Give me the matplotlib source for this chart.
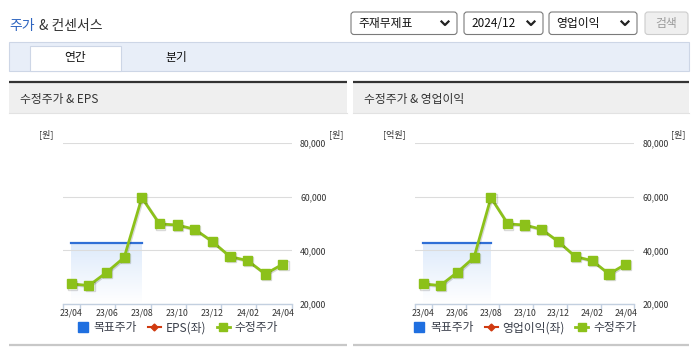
import numpy as np
import matplotlib
matplotlib.use("Agg")
import matplotlib.pyplot as plt
from matplotlib.lines import Line2D
from matplotlib.patches import Rectangle, FancyBboxPatch
import matplotlib.patheffects as pe

plt.rcParams['font.family'] = ['Noto Sans CJK KR', 'DejaVu Sans']

# data
months = ['23/04', '23/05', '23/06', '23/07', '23/08', '23/09', '23/10',
          '23/11', '23/12', '24/01', '24/02', '24/03', '24/04']
price = [27500, 26900, 31800, 37400, 59700, 49900, 49500,
         47900, 43300, 37700, 36200, 31200, 34900]
target = [42900, 42900, 42900, 42900, 42900, np.nan, np.nan,
          np.nan, np.nan, np.nan, np.nan, np.nan, np.nan]
yticks = [20000, 40000, 60000, 80000]

W, H = 695, 349
GREEN = '#8cc11a'
BLUE = '#2f6fd6'
RED = '#d03a10'
TXT = '#333333'

fig = plt.figure(figsize=(W / 100, H / 100), dpi=100)
bg = fig.add_axes([0, 0, 1, 1])
bg.set_xlim(0, W)
bg.set_ylim(H, 0)
bg.axis('off')

# page header
bg.text(9, 26, '주가', color='#2d64c0', fontsize=10, va='center')
bg.text(39, 26, '& 컨센서스', color=TXT, fontsize=10, va='center')

# dropdowns
for x0, x1, label in [(351, 457, '주재무제표'), (464, 543, '2024/12'), (549, 637, '영업이익')]:
    bg.add_patch(FancyBboxPatch((x0, 12), x1 - x0, 22.5, boxstyle='round,pad=0,rounding_size=3',
                                fc='white', ec='#7a7a7a', lw=0.8))
    bg.text(x0 + 7, 23.5, label, fontsize=8.5, color='#111111', va='center')
    cx = x1 - 12
    bg.plot([cx - 3.5, cx, cx + 3.5], [21.5, 25, 21.5], color='#222222', lw=1.6)
bg.add_patch(FancyBboxPatch((645, 12), 43, 22.5, boxstyle='round,pad=0,rounding_size=3',
                            fc='#efefef', ec='#cccccc', lw=0.8))
bg.text(666.5, 23.5, '검색', fontsize=8.5, color='#9a9a9a', va='center', ha='center')

# tab bar
bg.add_patch(Rectangle((9, 41.5), 680, 29, fc='#e8eef8', ec='#cdd6e6', lw=0.8))
bg.add_patch(Rectangle((29.5, 46), 91, 25, fc='white', ec='#cdd6e6', lw=0.8))
bg.text(75, 58, '연간', fontsize=8.5, color='#111111', ha='center', va='center')
bg.text(176, 58, '분기', fontsize=8.5, color='#111111', ha='center', va='center')

# panels
panels = [(9, 346.5, '수정주가 & EPS', 'EPS(좌)', '[원]', 46, 336, 62.5, 291.7),
          (352.5, 688.5, '수정주가 & 영업이익', '영업이익(좌)', '[억원]', 394, 678, 415, 634.3)]

for x0, x1, title, second, lunit, lux, rux, ax0, ax1 in panels:
    bg.add_patch(Rectangle((x0, 83), x1 - x0, 30, fc='#efefef', ec='none'))
    bg.plot([x0, x1], [82, 82], color='#333333', lw=1.6, solid_capstyle='butt')
    bg.plot([x0, x1], [113, 113], color='#e2e2e2', lw=0.8)
    bg.plot([x0, x1], [344.5, 344.5], color='#c8c8c8', lw=1.6, solid_capstyle='butt')
    bg.text(x0 + 11, 99, title, fontsize=8.5, color=TXT, va='center')
    bg.text(lux, 134, lunit, fontsize=6.5, color=TXT, ha='center', va='center')
    bg.text(rux, 134, '[원]', fontsize=6.5, color=TXT, ha='center', va='center')

    top, bot = 143.3, 304
    ax = fig.add_axes([ax0 / W, 1 - bot / H, (ax1 - ax0) / W, (bot - top) / H])
    ax.patch.set_alpha(0)
    x = np.arange(len(months))
    ax.set_xlim(-0.5, len(months) - 0.5)
    ax.set_ylim(20000, 80000)

    # target price band with gradient
    tx = x[~np.isnan(target)]
    tv = np.nanmax(target)
    grad = np.zeros((100, 1, 4))
    grad[..., 0], grad[..., 1], grad[..., 2] = 0.87, 0.92, 0.985
    grad[:, 0, 3] = np.linspace(1, 0.0, 100)
    ax.imshow(grad, extent=[tx[0], tx[-1], 20000, tv], aspect='auto', origin='upper', zorder=1)
    ax.plot(x, target, color=BLUE, lw=1.6, zorder=2)

    ax.plot(x, price, color=GREEN, lw=2, marker='s', ms=6.5, zorder=3,
            path_effects=[pe.SimpleLineShadow(offset=(0.8, -0.8), alpha=0.15), pe.Normal()])

    ax.set_yticks(yticks)
    ax.set_yticklabels([f'{v:,}' for v in yticks])
    ax.yaxis.tick_right()
    ax.tick_params(axis='y', length=0, pad=6, labelsize=6.3, labelcolor=TXT)
    ax.grid(axis='y', color='#dcdcdc', lw=0.8, zorder=0)
    for s in ['top', 'left', 'right']:
        ax.spines[s].set_visible(False)
    ax.spines['bottom'].set_color('#c3d0e0')
    ax.spines['bottom'].set_linewidth(1)

    edges = [-0.5] + list(np.arange(0.5, len(months) - 1, 2)) + [len(months) - 0.5]
    ax.set_xticks(edges)
    ax.set_xticklabels([])
    ax.tick_params(axis='x', which='major', length=3.5, color='#c3d0e0', width=1)
    ax.set_xticks(x[::2], minor=True)
    ax.set_xticklabels(months[::2], minor=True)
    ax.tick_params(axis='x', which='minor', length=0, pad=3, labelsize=6.3, labelcolor=TXT)

    handles = [Line2D([], [], ls='none', marker='s', ms=7.5, color='#1f6fe0'),
               Line2D([], [], color=RED, lw=1.5, marker='D', ms=3.5),
               Line2D([], [], color=GREEN, lw=2, marker='s', ms=5.5)]
    ax.legend(handles, ['목표주가', second, '수정주가'], loc='center', ncol=3,
              bbox_to_anchor=(0.5, -0.148), frameon=False, fontsize=8.5,
              handlelength=1.1, handletextpad=0.4, columnspacing=0.9,
              labelcolor='#3a3f4a', borderaxespad=0, borderpad=0)

fig.savefig('out.png', dpi=100)
